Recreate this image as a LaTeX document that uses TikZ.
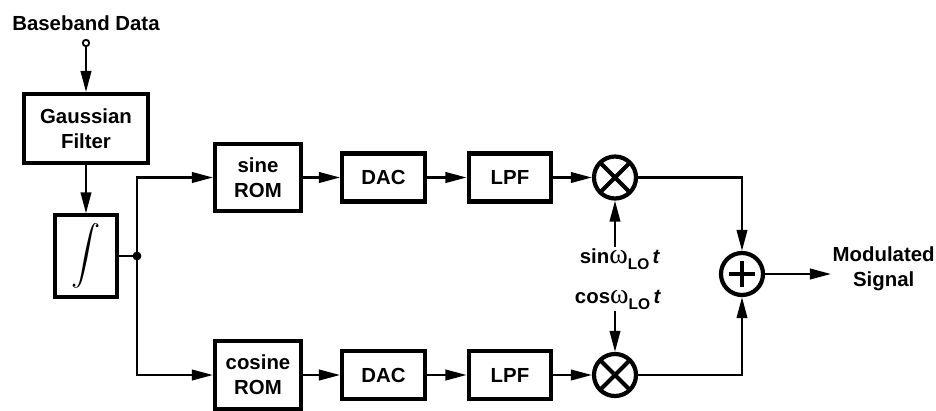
\documentclass[tikz,border=0pt]{standalone}
\usepackage{fontspec}
\setmainfont{Liberation Sans}
\newfontfamily\grkfont{Liberation Serif}
\usepackage{amsmath}
\usetikzlibrary{arrows.meta, positioning, calc}

\newcommand{\omlo}{{\grkfont\mdseries\fontsize{20}{20}\selectfont ω}\raisebox{-0.3em}{\fontsize{11}{12}\selectfont LO}\,\textit{t}}

\begin{document}
\begin{tikzpicture}[x=0.025cm, y=-0.025cm,
                lbl/.style={font=\fontsize{14.5}{17.5}\selectfont\bfseries, align=center, inner sep=1pt},
                block/.style={lbl, draw, line width=2.9pt},
                wire/.style={line width=1.6pt},
                arr/.style={wire, -{Triangle[length=15pt, width=7.5pt]}},
                mixer/.style={circle, draw, line width=3pt, minimum size=1.05cm, inner sep=0pt,
                    path picture={\draw[line width=3pt] (path picture bounding box.north west) -- (path picture bounding box.south east)
                        (path picture bounding box.north east) -- (path picture bounding box.south west);}},
                adder/.style={circle, draw, line width=3pt, minimum size=1.05cm, inner sep=0pt,
                    path picture={\draw[line width=3pt] ([xshift=-0.33cm]path picture bounding box.center) -- ([xshift=0.33cm]path picture bounding box.center)
                        ([yshift=-0.33cm]path picture bounding box.center) -- ([yshift=0.33cm]path picture bounding box.center);}}]
                \useasboundingbox (0,0) rectangle (936,410);

                % Input
                \node[lbl] (bbtxt) at (86,23) {Baseband Data};
                \node[circle, draw, line width=1.3pt, minimum size=0.16cm, inner sep=0pt] (inp) at (86,43) {};
                \node[block, minimum width=3.1cm, minimum height=1.72cm] (gauss) at (86,128.5) {Gaussian\\Filter};
                \node[block, minimum width=1.53cm, minimum height=2.03cm, font=\fontsize{20}{20}\selectfont] (integ) at (86,256) {$\displaystyle\int$};
                \node[circle, fill, minimum size=0.22cm, inner sep=0pt] (split) at (137,256) {};
                \draw[arr] (inp.south) -- (gauss.north);
                \draw[arr] (gauss.south) -- (integ.north);
                \draw[wire] (integ.east) -- (split.center);

                % Upper branch
                \node[block, minimum width=2.15cm, minimum height=1.68cm] (sinrom) at (258,177.5) {sine\\ROM};
                \node[block, minimum width=2.07cm, minimum height=1.2cm] (dac1) at (383.5,177.5) {DAC};
                \node[block, minimum width=2.07cm, minimum height=1.2cm] (lpf1) at (510,177.5) {LPF};
                \node[mixer] (mult1) at (615,177.5) {};
                \node[lbl] (sinlo) at (620,259) {sin\omlo};

                % Lower branch
                \node[block, minimum width=2.15cm, minimum height=1.68cm] (cosrom) at (258,375) {cosine\\ROM};
                \node[block, minimum width=2.07cm, minimum height=1.2cm] (dac2) at (383.5,375) {DAC};
                \node[block, minimum width=2.07cm, minimum height=1.2cm] (lpf2) at (510,375) {LPF};
                \node[mixer] (mult2) at (615,375) {};
                \node[lbl] (coslo) at (618,300) {cos\omlo};

                % Sum and output
                \node[adder] (sum) at (742,274) {};
                \node[lbl, anchor=west] (outsig) at (831,269) {Modulated\\Signal};

                \draw[arr] (split.center) |- (sinrom.west);
                \draw[arr] (split.center) |- (cosrom.west);
                \draw[arr] (sinrom.east) -- (dac1.west);
                \draw[arr] (dac1.east) -- (lpf1.west);
                \draw[arr] (lpf1.east) -- (mult1.west);
                \draw[arr] (cosrom.east) -- (dac2.west);
                \draw[arr] (dac2.east) -- (lpf2.west);
                \draw[arr] (lpf2.east) -- (mult2.west);
                \draw[arr] (sinlo.north -| mult1.south) -- (mult1.south);
                \draw[arr] (coslo.south -| mult2.north) -- (mult2.north);
                \draw[arr] (mult1.east) -| (sum.north);
                \draw[arr] (mult2.east) -| (sum.south);
                \draw[arr] (sum.east) -- (sum.east -| outsig.west);
\end{tikzpicture}
\end{document}
